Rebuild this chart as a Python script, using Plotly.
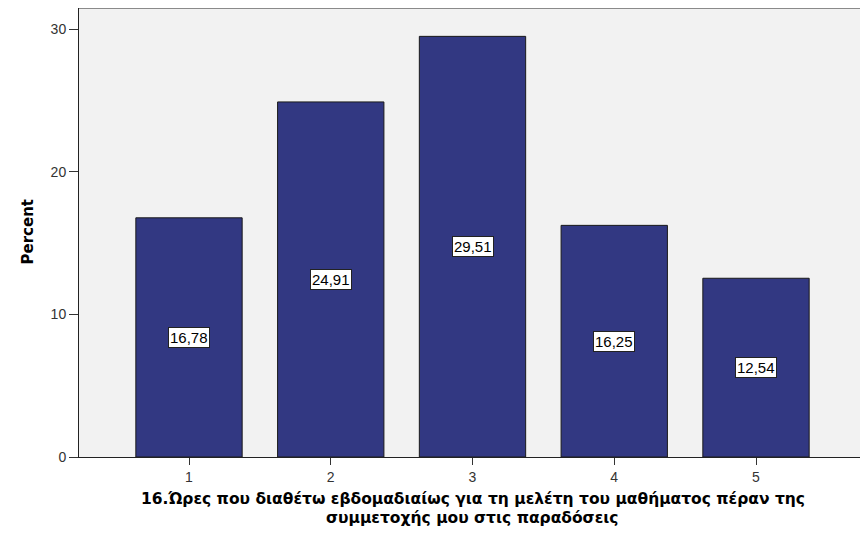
import plotly.graph_objects as go

categories = [1, 2, 3, 4, 5]
percents = [16.78, 24.91, 29.51, 16.25, 12.54]
value_labels = ["16,78", "24,91", "29,51", "16,25", "12,54"]
y_ticks = [0, 10, 20, 30]

x_title_lines = [
    "16.Ώρες που διαθέτω εβδομαδιαίως για τη μελέτη του μαθήματος πέραν της",
    "συμμετοχής μου στις παραδόσεις",
]
y_title = "Percent"

BOLD = "DejaVu Sans, Verdana, sans-serif"
REG = "Liberation Sans, Arial, sans-serif"

fig = go.Figure()
fig.add_trace(go.Bar(
    x=categories, y=percents, width=0.75,
    marker=dict(color="#323882", line=dict(color="#1a1a1a", width=1)),
    hoverinfo="skip",
))

for c, v, t in zip(categories, percents, value_labels):
    fig.add_annotation(x=c, y=v / 2, text=t, showarrow=False,
                       font=dict(family=REG, size=15, color="black"),
                       bgcolor="white", bordercolor="#222222", borderwidth=1, borderpad=1)

for i, line in enumerate(x_title_lines):
    fig.add_annotation(xref="paper", yref="paper", x=0.5, y=0, yshift=-42 - 19 * i,
                       xanchor="center", yanchor="middle", showarrow=False, text=line,
                       borderpad=0,
                       font=dict(family=BOLD, size=15.5, color="black", weight="bold"))

fig.add_annotation(xref="paper", yref="paper", x=0, y=0.5, xshift=-52,
                   xanchor="center", yanchor="middle", showarrow=False, text=y_title,
                   textangle=-90,
                   font=dict(family=BOLD, size=15, color="black", weight="bold"))

fig.update_layout(
    width=868, height=534,
    margin=dict(l=71, r=10, t=0, b=85),
    paper_bgcolor="white", plot_bgcolor="#F2F2F2",
    showlegend=False,
    font=dict(family=REG, size=14, color="#333333"),
    xaxis=dict(range=[0.224, 5.776], tickvals=categories, ticks="outside", ticklen=7,
               tickcolor="#333333", showgrid=False, zeroline=False,
               showline=True, linecolor="#222222", linewidth=1),
    yaxis=dict(range=[0, 31.5], tickvals=y_ticks, ticks="outside", ticklen=9,
               tickcolor="#333333", showgrid=False, zeroline=False,
               showline=True, linecolor="#222222", linewidth=1),
    shapes=[
        dict(type="line", xref="paper", yref="paper", x0=0, x1=1, y0=1, y1=1,
             line=dict(color="#8a8a8a", width=2)),
        dict(type="line", xref="paper", yref="paper", x0=1, x1=1, y0=0, y1=1,
             line=dict(color="#6a6a6a", width=2)),
    ],
)

fig.write_html("out.html")
